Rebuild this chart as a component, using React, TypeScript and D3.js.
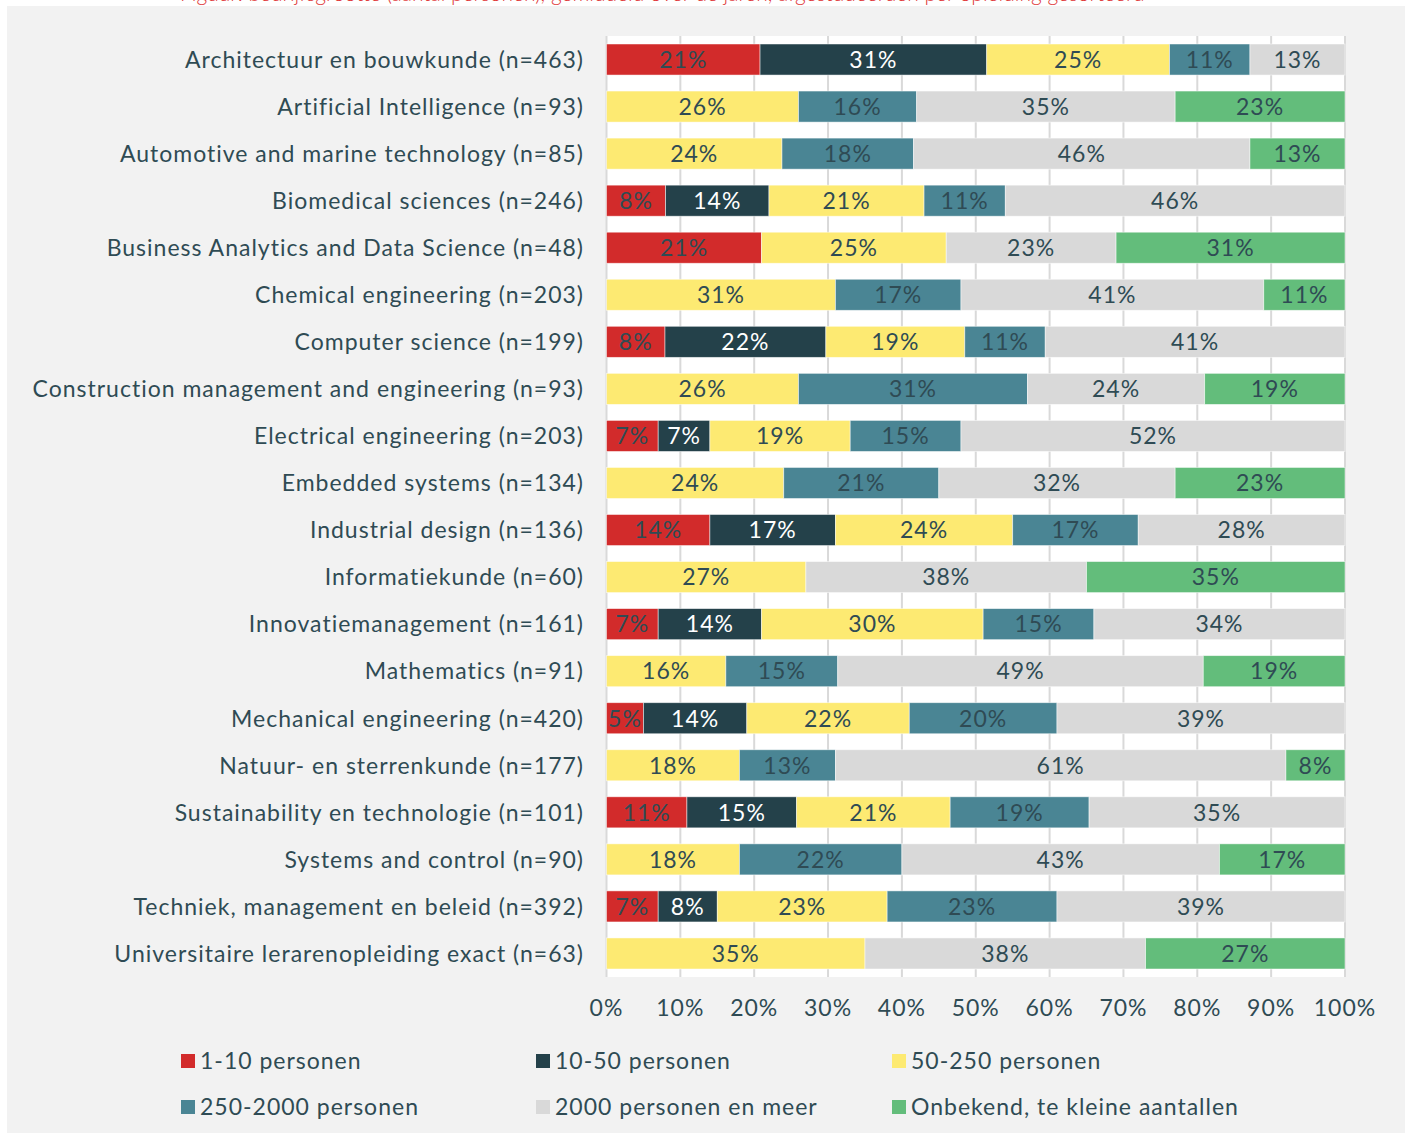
import * as d3 from 'd3';

const categories = [
  'Architectuur en bouwkunde (n=463)',
  'Artificial Intelligence (n=93)',
  'Automotive and marine technology (n=85)',
  'Biomedical sciences (n=246)',
  'Business Analytics and Data Science (n=48)',
  'Chemical engineering (n=203)',
  'Computer science (n=199)',
  'Construction management and engineering (n=93)',
  'Electrical engineering (n=203)',
  'Embedded systems (n=134)',
  'Industrial design (n=136)',
  'Informatiekunde (n=60)',
  'Innovatiemanagement (n=161)',
  'Mathematics (n=91)',
  'Mechanical engineering (n=420)',
  'Natuur- en sterrenkunde (n=177)',
  'Sustainability en technologie (n=101)',
  'Systems and control (n=90)',
  'Techniek, management en beleid (n=392)',
  'Universitaire lerarenopleiding exact (n=63)',
];

const seriesNames = [
  '1-10 personen',
  '10-50 personen',
  '50-250 personen',
  '250-2000 personen',
  '2000 personen en meer',
  'Onbekend, te kleine aantallen',
];

const seriesColors = ['#d22b2b', '#24414a', '#fdea72', '#4a8594', '#d9d9d9', '#63bd7b'];

// percentages per series, one entry per category
const size1to10 = [21, 0, 0, 8, 21, 0, 8, 0, 7, 0, 14, 0, 7, 0, 5, 0, 11, 0, 7, 0];
const size10to50 = [31, 0, 0, 14, 0, 0, 22, 0, 7, 0, 17, 0, 14, 0, 14, 0, 15, 0, 8, 0];
const size50to250 = [25, 26, 24, 21, 25, 31, 19, 26, 19, 24, 24, 27, 30, 16, 22, 18, 21, 18, 23, 35];
const size250to2000 = [11, 16, 18, 11, 0, 17, 11, 31, 15, 21, 17, 0, 15, 15, 20, 13, 19, 22, 23, 0];
const size2000plus = [13, 35, 46, 46, 23, 41, 41, 24, 52, 32, 28, 38, 34, 49, 39, 61, 35, 43, 39, 38];
const sizeUnknown = [0, 23, 13, 0, 31, 11, 0, 19, 0, 23, 0, 35, 0, 19, 0, 8, 0, 17, 0, 27];

const xTicks = [0, 0.1, 0.2, 0.3, 0.4, 0.5, 0.6, 0.7, 0.8, 0.9, 1];

const seriesValues = [size1to10, size10to50, size50to250, size250to2000, size2000plus, sizeUnknown];

const font = 'Lato, "Noto Sans", sans-serif';
const textColor = '#2f4b54';
const spacing = 1.0;

export default function App() {
  const width = 1410;
  const height = 1133;

  const rows = categories.map((c, i) => {
    const r: Record<string, number | string> = { category: c };
    seriesNames.forEach((s, j) => (r[s] = seriesValues[j][i]));
    return r;
  });

  const stack = d3
    .stack<Record<string, number | string>>()
    .keys(seriesNames)
    .value((d, k) => d[k] as number)
    .offset(d3.stackOffsetExpand);
  const layers = stack(rows);

  const x = d3.scaleLinear().domain([0, 1]).range([606.5, 1345]);
  const y = d3.scaleBand().domain(categories).range([36, 977]).paddingInner(0.34).paddingOuter(0.17);

  const legendCols = [181, 536, 892];
  const legendRows = [1061, 1107];

  return (
    <div style={{ position: 'absolute', left: 0, top: 0 }}>
      <svg width={width} height={height} style={{ display: 'block' }} fontFamily={font}>
        <rect x={0} y={0} width={width} height={height} fill="#ffffff" />
        <text x={180} y={1} fill="#e0393a" fontSize={21} fontWeight={300}>
          Figuur: bedrijfsgrootte (aantal personen), gemiddeld over de jaren, afgestudeerden per opleiding gesorteerd
        </text>
        <rect x={7} y={6} width={1398} height={height - 6} fill="#f2f2f2" />

        {/* plot area */}
        <rect x={x(0)} y={36} width={x(1) - x(0)} height={941} fill="#ffffff" />
        {xTicks.map((t) => (
          <line key={t} x1={x(t)} x2={x(t)} y1={36} y2={977} stroke="#d9d9d9" strokeWidth={2} />
        ))}

        {layers.map((layer, j) => (
          <g key={layer.key}>
            {layer.map((d, i) => {
              const w = x(d[1]) - x(d[0]);
              if (w <= 0) return null;
              const yy = y(categories[i]) as number;
              const val = seriesValues[j][i];
              return (
                <g key={i}>
                  <rect
                    x={x(d[0])}
                    y={yy}
                    width={w}
                    height={y.bandwidth()}
                    fill={seriesColors[j]}
                    stroke="rgba(255,255,255,0.6)"
                    strokeWidth={0.8}
                  />
                  <text
                    x={(x(d[0]) + x(d[1])) / 2}
                    y={yy + y.bandwidth() / 2}
                    dy="0.36em"
                    textAnchor="middle"
                    fontSize={23}
                    letterSpacing={spacing}
                    fill={j === 1 ? '#ffffff' : textColor}
                  >
                    {val}%
                  </text>
                </g>
              );
            })}
          </g>
        ))}

        {categories.map((c) => (
          <text
            key={c}
            x={584}
            y={(y(c) as number) + y.bandwidth() / 2}
            dy="0.36em"
            textAnchor="end"
            fontSize={23}
            letterSpacing={spacing}
            fill={textColor}
          >
            {c}
          </text>
        ))}

        {xTicks.map((t) => (
          <text
            key={t}
            x={x(t)}
            y={1008}
            dy="0.36em"
            textAnchor="middle"
            fontSize={23}
            letterSpacing={spacing}
            fill={textColor}
          >
            {d3.format('.0%')(t)}
          </text>
        ))}

        {seriesNames.map((s, j) => {
          const lx = legendCols[j % 3];
          const ly = legendRows[Math.floor(j / 3)];
          return (
            <g key={s}>
              <rect x={lx} y={ly - 7} width={14} height={14} fill={seriesColors[j]} />
              <text x={lx + 19} y={ly} dy="0.36em" fontSize={23} letterSpacing={spacing} fill={textColor}>
                {s}
              </text>
            </g>
          );
        })}
      </svg>
    </div>
  );
}
